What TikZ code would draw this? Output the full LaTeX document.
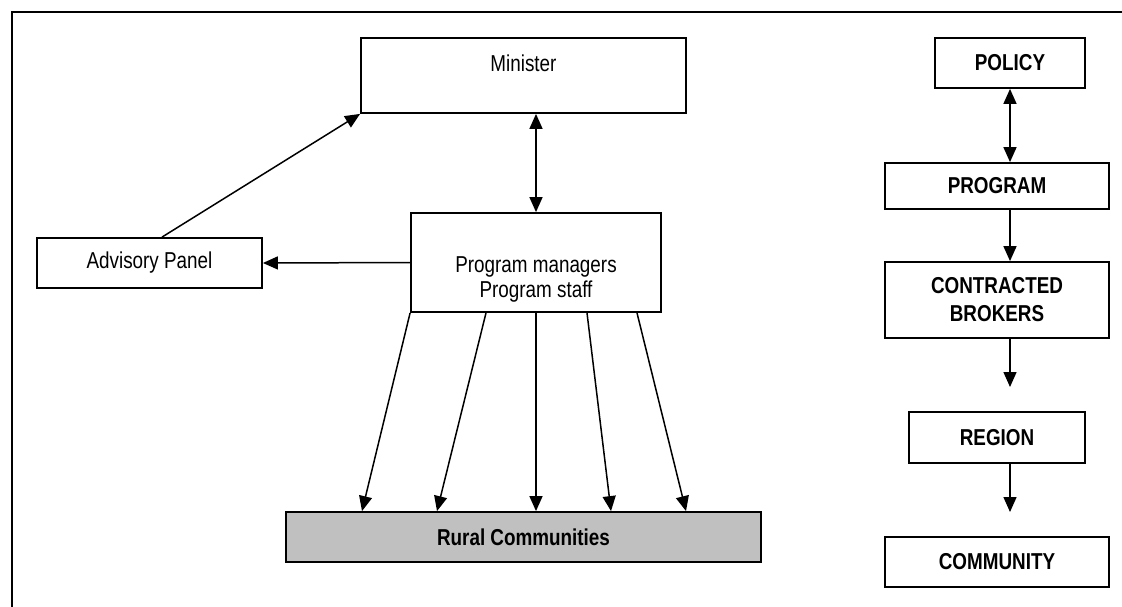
\documentclass[tikz,border=0pt]{standalone}
\usepackage{fontspec}
\setmainfont{Liberation Sans}[FakeStretch=0.82]
\usetikzlibrary{arrows.meta}
\definecolor{ruralgray}{RGB}{192,192,192}
\begin{document}
\begin{tikzpicture}[x=1pt,y=-1pt,
  box/.style={draw, line width=1.8pt, rectangle, inner sep=0pt, align=center,
              font=\fontsize{23}{26}\selectfont},
  bbox/.style={box, font=\bfseries\fontsize{23}{28}\selectfont},
  txt/.style={inner sep=0pt, align=center, font=\fontsize{23}{25}\selectfont},
  arr/.style={line width=1.5pt, -{Triangle[length=15pt,width=13pt]}},
  darr/.style={line width=1.5pt, {Triangle[length=15pt,width=13pt]}-{Triangle[length=15pt,width=13pt]}}
]
\useasboundingbox (0,0) rectangle (1122,606);
\clip (0,0) rectangle (1122,606);

% outer frame, running off the right and bottom edges
\draw[line width=1.8pt] (12,640) -- (12,12) -- (1160,12);

% left: organisation
\node[box, minimum width=325pt, minimum height=75pt] (min) at (523.5,75.5) {};
\node[txt] (mintxt) at (523.5,63) {Minister};
\node[box, minimum width=225pt, minimum height=50pt] (adv) at (149.5,263) {Advisory Panel};
\node[box, minimum width=250pt, minimum height=99pt] (pm) at (536,262.5) {};
\node[txt] (pmtxt) at (536,279) {Program managers\\Program staff};
\node[bbox, fill=ruralgray, minimum width=475pt, minimum height=50pt] (rural) at (523.5,537) {Rural Communities};

\draw[arr] ([xshift=12.5pt]adv.north) -- (min.south west);
\draw[darr] (pm.north) -- (pm.north |- min.south);
\draw[arr] (pm.west) -- (adv.east);
\draw[arr] (pm.south west) -- ([xshift=-161.5pt]rural.north);
\draw[arr] ([xshift=-50pt]pm.south) -- ([xshift=-86.5pt]rural.north);
\draw[arr] (pm.south) -- (pm.south |- rural.north);
\draw[arr] ([xshift=51pt]pm.south) -- ([xshift=87.5pt]rural.north);
\draw[arr] ([xshift=101pt]pm.south) -- ([xshift=162.5pt]rural.north);

% right: levels
\node[bbox, minimum width=150pt, minimum height=50pt] (policy) at (1010,63) {POLICY};
\node[bbox, minimum width=224pt, minimum height=46pt] (program) at (997,186) {PROGRAM};
\node[bbox, minimum width=224pt, minimum height=76pt] (cb) at (997,300) {CONTRACTED\\BROKERS};
\node[bbox, minimum width=176pt, minimum height=51pt] (region) at (997,437.5) {REGION};
\node[bbox, minimum width=224pt, minimum height=50pt] (community) at (997,562) {COMMUNITY};

\coordinate (cbend) at (1010,387);
\coordinate (regend) at (1010,512);

\draw[darr] (policy.south) -- (policy.south |- program.north);
\draw[arr] (policy.south |- program.south) -- (policy.south |- cb.north);
\draw[arr] (policy.south |- cb.south) -- (cbend);
\draw[arr] (policy.south |- region.south) -- (regend);
\end{tikzpicture}
\end{document}
